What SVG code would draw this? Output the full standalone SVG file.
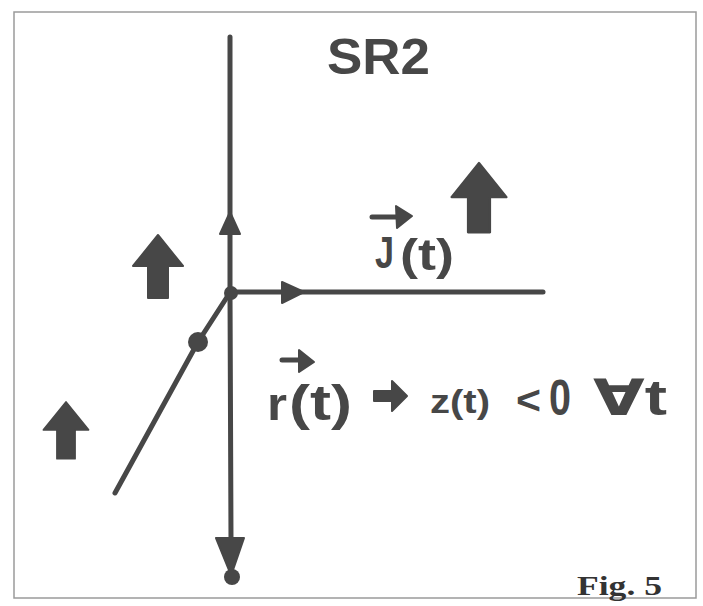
<svg xmlns="http://www.w3.org/2000/svg" width="703" height="606" viewBox="0 0 703 606">
<style>
.ln{fill:none;stroke:#474747;stroke-width:5;stroke-linecap:round;stroke-linejoin:round}
.fl{fill:#474747;stroke:#474747;stroke-width:2;stroke-linejoin:round}
.hw{font-family:"Liberation Sans","DejaVu Sans",sans-serif;font-weight:bold;fill:#474747}
.cap{font-family:"Liberation Serif","DejaVu Serif",serif;font-weight:bold;fill:#333}
</style>
<defs>
<path id="blk" d="M0,0 L25,31 L10,31 L10,63 L-10,63 L-10,31 L-25,31 Z"/>
</defs>
<rect x="0" y="0" width="703" height="606" fill="#fff"/>
<rect x="14" y="12" width="682" height="586" fill="none" stroke="#9a9a9a" stroke-width="1.5"/>

<g id="connectors">
<path class="ln" d="M230,37 L230,292 L231,540"/>
<path class="ln" d="M230,292 L543,292"/>
<path class="ln" d="M229,294 L198,342 L115,493"/>
<path class="fl" d="M230,212 L240,234 L220,234 Z"/>
<path class="fl" d="M304,292 L282,282 L282,303 Z"/>
<path class="fl" d="M216,538 L244,538 L233,570 L229,570 Z"/>
<circle cx="232" cy="577" r="8" fill="#474747"/>
<circle cx="198" cy="342" r="10" fill="#474747"/>
<circle cx="231" cy="293" r="7" fill="#474747"/>
</g>

<g id="arrow-left" class="fl"><use href="#blk" x="158" y="235"/></g>
<g id="arrow-bottomleft" class="fl"><use href="#blk" transform="translate(66,402) scale(0.9)"/></g>
<g id="arrow-right" class="fl"><use href="#blk" transform="translate(479,163) scale(1.1)"/></g>

<g id="title"><text class="hw" x="327" y="74" font-size="50" textLength="103" lengthAdjust="spacingAndGlyphs">SR2</text></g>

<g id="label-j">
<path class="ln" d="M372,217 L400,217" stroke-width="6"/>
<path class="fl" d="M412,216 L396,206 L397,228 Z"/>
<text class="hw" x="375" y="268" font-size="44" textLength="19" lengthAdjust="spacingAndGlyphs">J</text>
<text class="hw" x="400" y="270" font-size="44" textLength="54" lengthAdjust="spacingAndGlyphs">(t)</text>
</g>

<g id="label-r">
<path class="ln" d="M282,360 L302,360" stroke-width="6"/>
<path class="fl" d="M314,362 L299,350 L299,372 Z"/>
<text class="hw" x="267" y="420" font-size="46" textLength="20" lengthAdjust="spacingAndGlyphs">r</text>
<text class="hw" x="289" y="420" font-size="50" textLength="63" lengthAdjust="spacingAndGlyphs">(t)</text>
<path class="fl" d="M374,391 L392,391 L392,381 L407,396 L392,411 L392,401 L374,401 Z"/>
<text class="hw" x="430" y="413" font-size="34" textLength="60" lengthAdjust="spacingAndGlyphs">z(t)</text>
<text class="hw" x="516" y="414" font-size="40" textLength="25" lengthAdjust="spacingAndGlyphs">&lt;</text>
<text class="hw" x="549" y="415" font-size="50" textLength="22" lengthAdjust="spacingAndGlyphs">0</text>
<text class="hw" x="593" y="415" font-size="50" textLength="74" lengthAdjust="spacingAndGlyphs">∀t</text>
</g>

<g id="caption"><text class="cap" x="577" y="595" font-size="27" textLength="85" lengthAdjust="spacingAndGlyphs">Fig. 5</text></g>
</svg>
